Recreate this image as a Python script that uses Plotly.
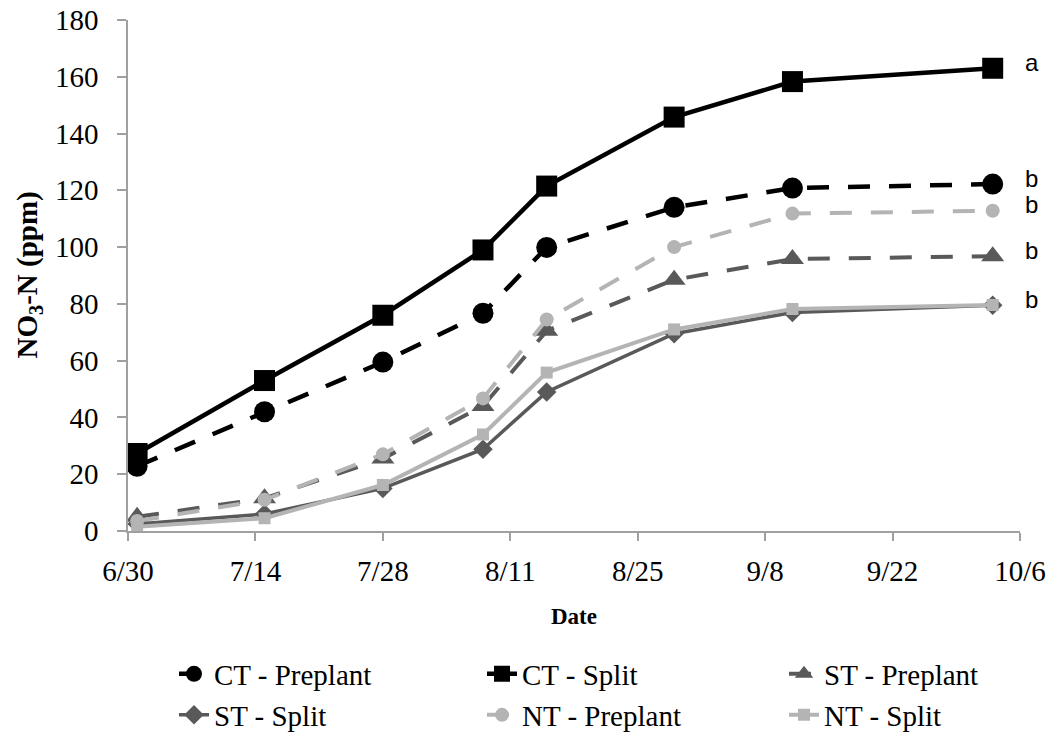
import plotly.graph_objects as go

dates = ["2013-07-01", "2013-07-15", "2013-07-28", "2013-08-08",
         "2013-08-15", "2013-08-29", "2013-09-11", "2013-10-03"]

ct_preplant = [22.8, 42, 59.5, 76.7, 99.9, 114, 120.8, 122.2]
ct_split = [27.3, 53, 76, 99, 121.5, 145.8, 158.3, 163]
st_preplant = [5, 11.5, 25.5, 44, 70.5, 88.5, 95.8, 96.8]
st_split = [2.5, 6, 15, 28.8, 49, 69.5, 77, 79.5]
nt_preplant = [3.5, 11, 27, 46.7, 74.5, 100, 111.8, 112.8]
nt_split = [1.5, 4.5, 16.2, 34, 55.8, 71, 78.2, 79.6]

series_names = ["CT - Preplant", "CT - Split", "ST - Preplant",
                "ST - Split", "NT - Preplant", "NT - Split"]
letters = ["b", "a", "b", "b", "b", None]
y_title = "<b>NO<sub>3</sub>-N (ppm)</b>"
x_title = "<b>Date</b>"

BLACK = "#000000"
DARK = "#595959"
LIGHT = "#B4B4B4"
DASH = "22px,19px"

styles = [
    dict(color=BLACK, width=4.5, dash=DASH, symbol="circle", size=21),
    dict(color=BLACK, width=4.5, dash="solid", symbol="square", size=21),
    dict(color=DARK, width=4, dash=DASH, symbol="triangle-up", size=20),
    dict(color=DARK, width=3.5, dash="solid", symbol="diamond", size=15),
    dict(color=LIGHT, width=4, dash=DASH, symbol="circle", size=14),
    dict(color=LIGHT, width=4, dash="solid", symbol="square", size=12),
]
values = [ct_preplant, ct_split, st_preplant, st_split, nt_preplant, nt_split]

# legend layout: text starts (px) and rows
leg_text_x = [215, 523, 825, 215, 523, 825]
leg_row_y = [674, 674, 674, 715, 715, 715]

W, H = 1055, 732
fig = go.Figure()
layout_legends = {}
for i, (name, vals, st) in enumerate(zip(series_names, values, styles)):
    lname = "legend" if i == 0 else f"legend{i+1}"
    fig.add_trace(go.Scatter(
        x=dates, y=vals, name=name, mode="lines+markers",
        line=dict(color=st["color"], width=st["width"], dash=st["dash"]),
        marker=dict(color=st["color"], symbol=st["symbol"], size=st["size"],
                    line=dict(width=0)),
        legend=lname,
    ))
    layout_legends[lname] = dict(
        xref="container", yref="container",
        x=(leg_text_x[i] - 41) / W, y=1 - leg_row_y[i] / H,
        xanchor="left", yanchor="middle",
        bgcolor="rgba(0,0,0,0)", borderwidth=0,
        font=dict(family="Liberation Serif", size=29, color="black"),
    )

annotations = []
for vals, letter in zip(values, letters):
    if letter is None:
        continue
    annotations.append(dict(
        x=dates[-1], y=vals[-1], xref="x", yref="y",
        text=letter, showarrow=False, xanchor="left", yanchor="middle",
        xshift=30, yshift=6,
        font=dict(family="Liberation Sans", size=24, color="black"),
    ))
# y-axis title
annotations.append(dict(
    x=0, y=0.5, xref="paper", yref="paper", xshift=-100,
    text=y_title, textangle=-90, showarrow=False,
    xanchor="center", yanchor="middle",
    font=dict(family="Liberation Serif", size=29, color="black"),
))

axis_color = "#A0A0A0"
fig.update_layout(
    width=W, height=H, autosize=False,
    margin=dict(l=128, r=35, t=20, b=201, pad=0, autoexpand=False),
    paper_bgcolor="white", plot_bgcolor="white",
    showlegend=True,
    annotations=annotations,
    xaxis=dict(
        type="date", range=["2013-06-30", "2013-10-06"],
        tick0="2013-06-30", dtick=14 * 86400000, tickformat="%-m/%-d",
        showgrid=False, zeroline=False, automargin=True,
        showline=True, linecolor=axis_color, linewidth=1.5,
        ticks="outside", ticklen=8, tickwidth=1.5, tickcolor=axis_color,
        ticklabelstandoff=5,
        tickfont=dict(family="Liberation Serif", size=29, color="black"),
        title=dict(text=x_title, standoff=22,
                   font=dict(family="Liberation Serif", size=23, color="black")),
    ),
    yaxis=dict(
        range=[0, 180], dtick=20, tick0=0,
        showgrid=False, zeroline=False, automargin=True,
        showline=True, linecolor=axis_color, linewidth=1.5,
        ticks="outside", ticklen=9, tickwidth=1.5, tickcolor=axis_color,
        ticklabelposition="outside", ticklabelstandoff=13,
        tickfont=dict(family="Liberation Serif", size=29, color="black"),
    ),
    **layout_legends,
)

fig.write_html("out.html",
               config={"displayModeBar": False},
               post_script="document.body.style.margin='0';"
                           "document.documentElement.style.overflow='hidden';")
